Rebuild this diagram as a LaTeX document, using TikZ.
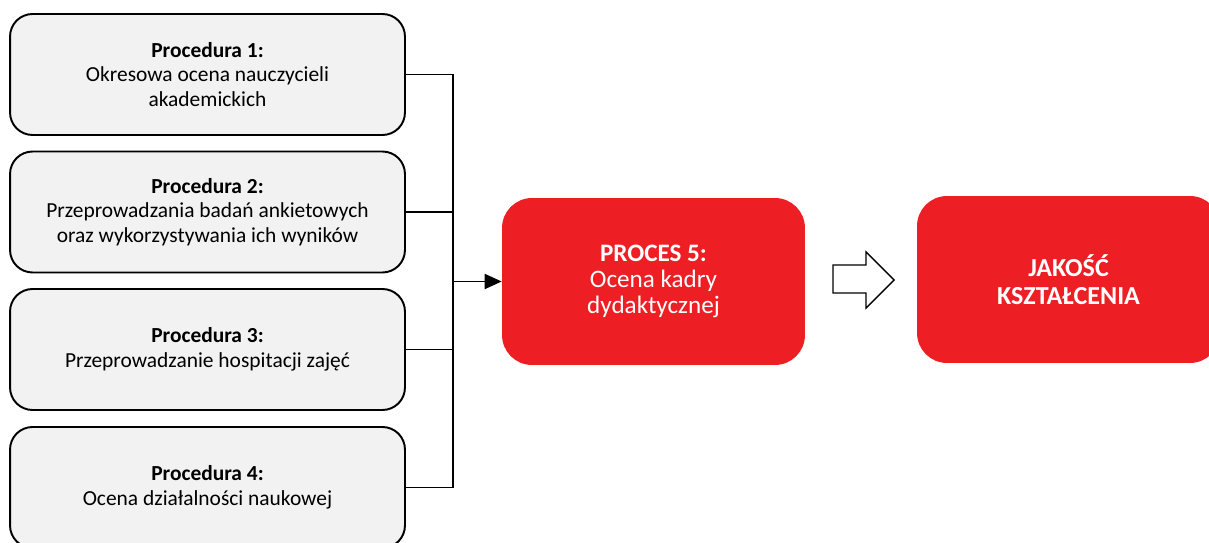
\documentclass[tikz,border=0pt]{standalone}
\usepackage{fontspec}
\setmainfont{Carlito}
\usetikzlibrary{arrows.meta}

\definecolor{procred}{RGB}{237,30,36}
\definecolor{procgrey}{RGB}{242,242,242}

\begin{document}
\begin{tikzpicture}[x=0.02cm, y=0.02cm]
\tikzstyle{every node}+=[inner sep=0pt]
\tikzstyle{procbox}=[draw=black, line width=1.1pt, fill=procgrey, rounded corners=0.45cm,
  minimum width=7.9cm, minimum height=2.42cm, align=center,
  font=\fontsize{12.2}{14}\selectfont]
\tikzstyle{redbox}=[fill=procred, rounded corners=0.6cm, text=white,
  minimum width=6.06cm, minimum height=3.34cm, align=center]
\clip (0,0) rectangle (1209,-543);
\node [procbox] (p1) at (207.5,-74.5) {\textbf{Procedura 1:}\\Okresowa ocena nauczycieli\\akademickich};
\node [procbox] (p2) at (207.5,-212) {\textbf{Procedura 2:}\\Przeprowadzania badań ankietowych\\oraz wykorzystywania ich wyników};
\node [procbox] (p3) at (207.5,-349.5) {\textbf{Procedura 3:}\\Przeprowadzanie hospitacji zajęć};
\node [procbox] (p4) at (207.5,-487.5) {\textbf{Procedura 4:}\\Ocena działalności naukowej};
\node [redbox, font=\fontsize{14.3}{14.8}\selectfont] (proc) at (653.5,-281.5) {\textbf{PROCES 5:}\\Ocena kadry\\dydaktycznej};
\node [redbox, font=\fontsize{14.8}{16}\selectfont\bfseries] (jakosc) at (1068.5,-279.5) {JAKOŚĆ\\KSZTAŁCENIA};
\coordinate (jn) at (453,-281.5);
\draw [black, line width=1.1pt] (p1.east) -| (jn);
\draw [black, line width=1.1pt] (p4.east) -| (jn);
\draw [black, line width=1.1pt] (p2.east) -- (p2.east -| jn);
\draw [black, line width=1.1pt] (p3.east) -- (p3.east -| jn);
\draw [black, line width=1.1pt, -{Triangle[length=0.34cm, width=0.3cm]}] (jn) -- (proc.west);
% hollow arrow
\draw [black, line width=0.8pt, fill=white] (833,-265) -- (866,-265) -- (866,-252) -- (894,-280)
  -- (866,-308) -- (866,-293) -- (833,-293) -- cycle;
\end{tikzpicture}
\end{document}
